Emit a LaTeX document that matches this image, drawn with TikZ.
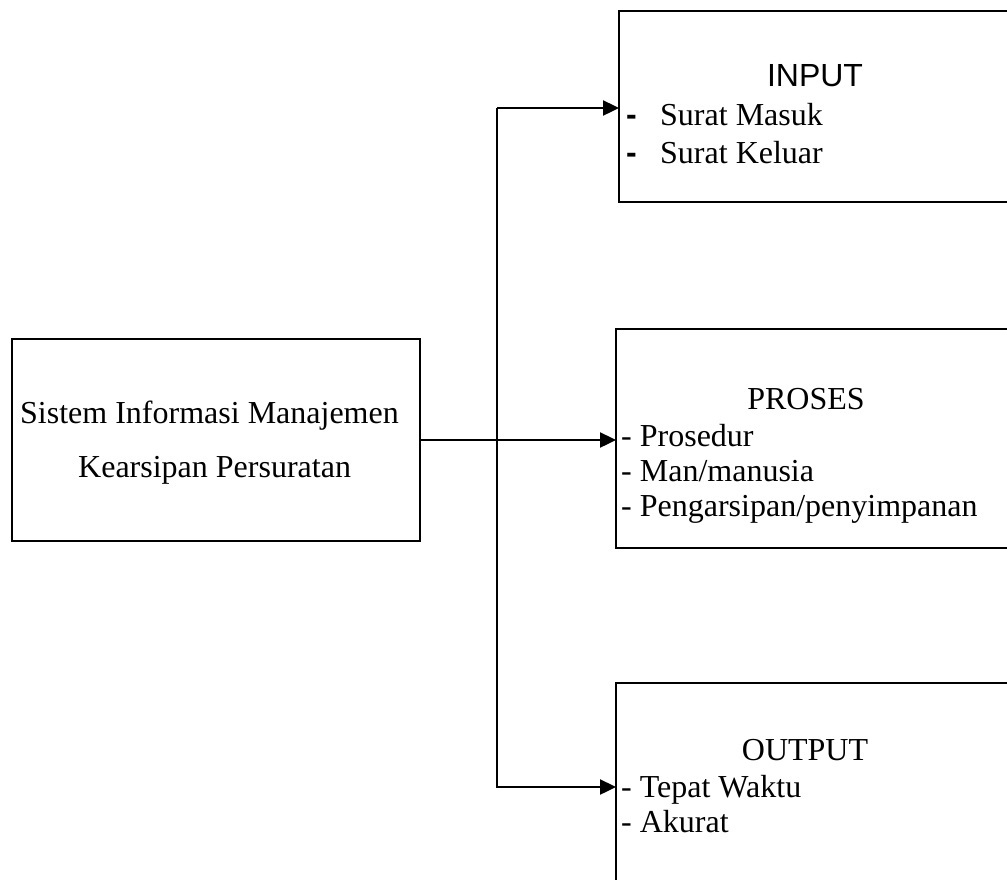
\documentclass[tikz,border=0pt]{standalone}
\usepackage{fontspec}
\setmainfont{Liberation Serif}
\newfontfamily\arialfont{Liberation Sans}
\usetikzlibrary{arrows.meta}
\tikzset{
  box/.style={draw, line width=2.4pt, rectangle, inner sep=0pt, outer sep=0pt, anchor=north west},
  txt/.style={inner sep=0pt, anchor=base west, font=\fontsize{32}{36}\selectfont},
  ctxt/.style={inner sep=0pt, anchor=base, font=\fontsize{32}{36}\selectfont},
  stxt/.style={inner sep=0pt, anchor=base, font=\arialfont\fontsize{32}{36}\selectfont},
  link/.style={line width=2.4pt, -{Triangle[length=16pt,width=15pt]}},
}
\begin{document}
\begin{tikzpicture}[x=1pt,y=-1pt]
  \useasboundingbox (0,0) rectangle (1007,879);
  \clip (0,0) rectangle (1007,879);

  % boxes
  \node[box, minimum width=408pt, minimum height=202pt] (sim) at (12,339) {};
  \node[box, minimum width=430pt, minimum height=191pt] (input) at (619,11) {};
  \node[box, minimum width=430pt, minimum height=219pt] (proses) at (616,329) {};
  \node[box, minimum width=430pt, minimum height=240pt] (output) at (616,683) {};

  % main box text
  \node[txt] (sim1) at (20,423) {Sistem Informasi Manajemen};
  \node[txt] (sim2) at (78,477) {Kearsipan Persuratan};

  % input box text
  \node[stxt] (inTitle) at (815,86) {INPUT};
  \node[txt, font=\arialfont\bfseries\fontsize{32}{36}\selectfont] (inDash1) at (626,125) {-};
  \node[txt] (in1) at (660,125) {Surat Masuk};
  \node[txt, font=\arialfont\bfseries\fontsize{32}{36}\selectfont] (inDash2) at (626,163) {-};
  \node[txt] (in2) at (660,163) {Surat Keluar};

  % process box text
  \node[ctxt] (prTitle) at (806,409) {PROSES};
  \node[txt] (pr1) at (621,446) {- Prosedur};
  \node[txt] (pr2) at (621,481) {- Man/manusia};
  \node[txt] (pr3) at (621,516) {- Pengarsipan/penyimpanan};

  % output box text
  \node[ctxt] (outTitle) at (805,760) {OUTPUT};
  \node[txt] (out1) at (621,797) {- Tepat Waktu};
  \node[txt] (out2) at (621,832) {- Akurat};

  % connectors
  \coordinate (top) at (497,108);
  \coordinate (bot) at (497,787);
  \draw[link] (sim.east) -- (sim.east -| proses.west);
  \draw[link] (top) -- (top -| input.west);
  \draw[link] (top) -- (bot) -- (bot -| output.west);
\end{tikzpicture}
\end{document}
